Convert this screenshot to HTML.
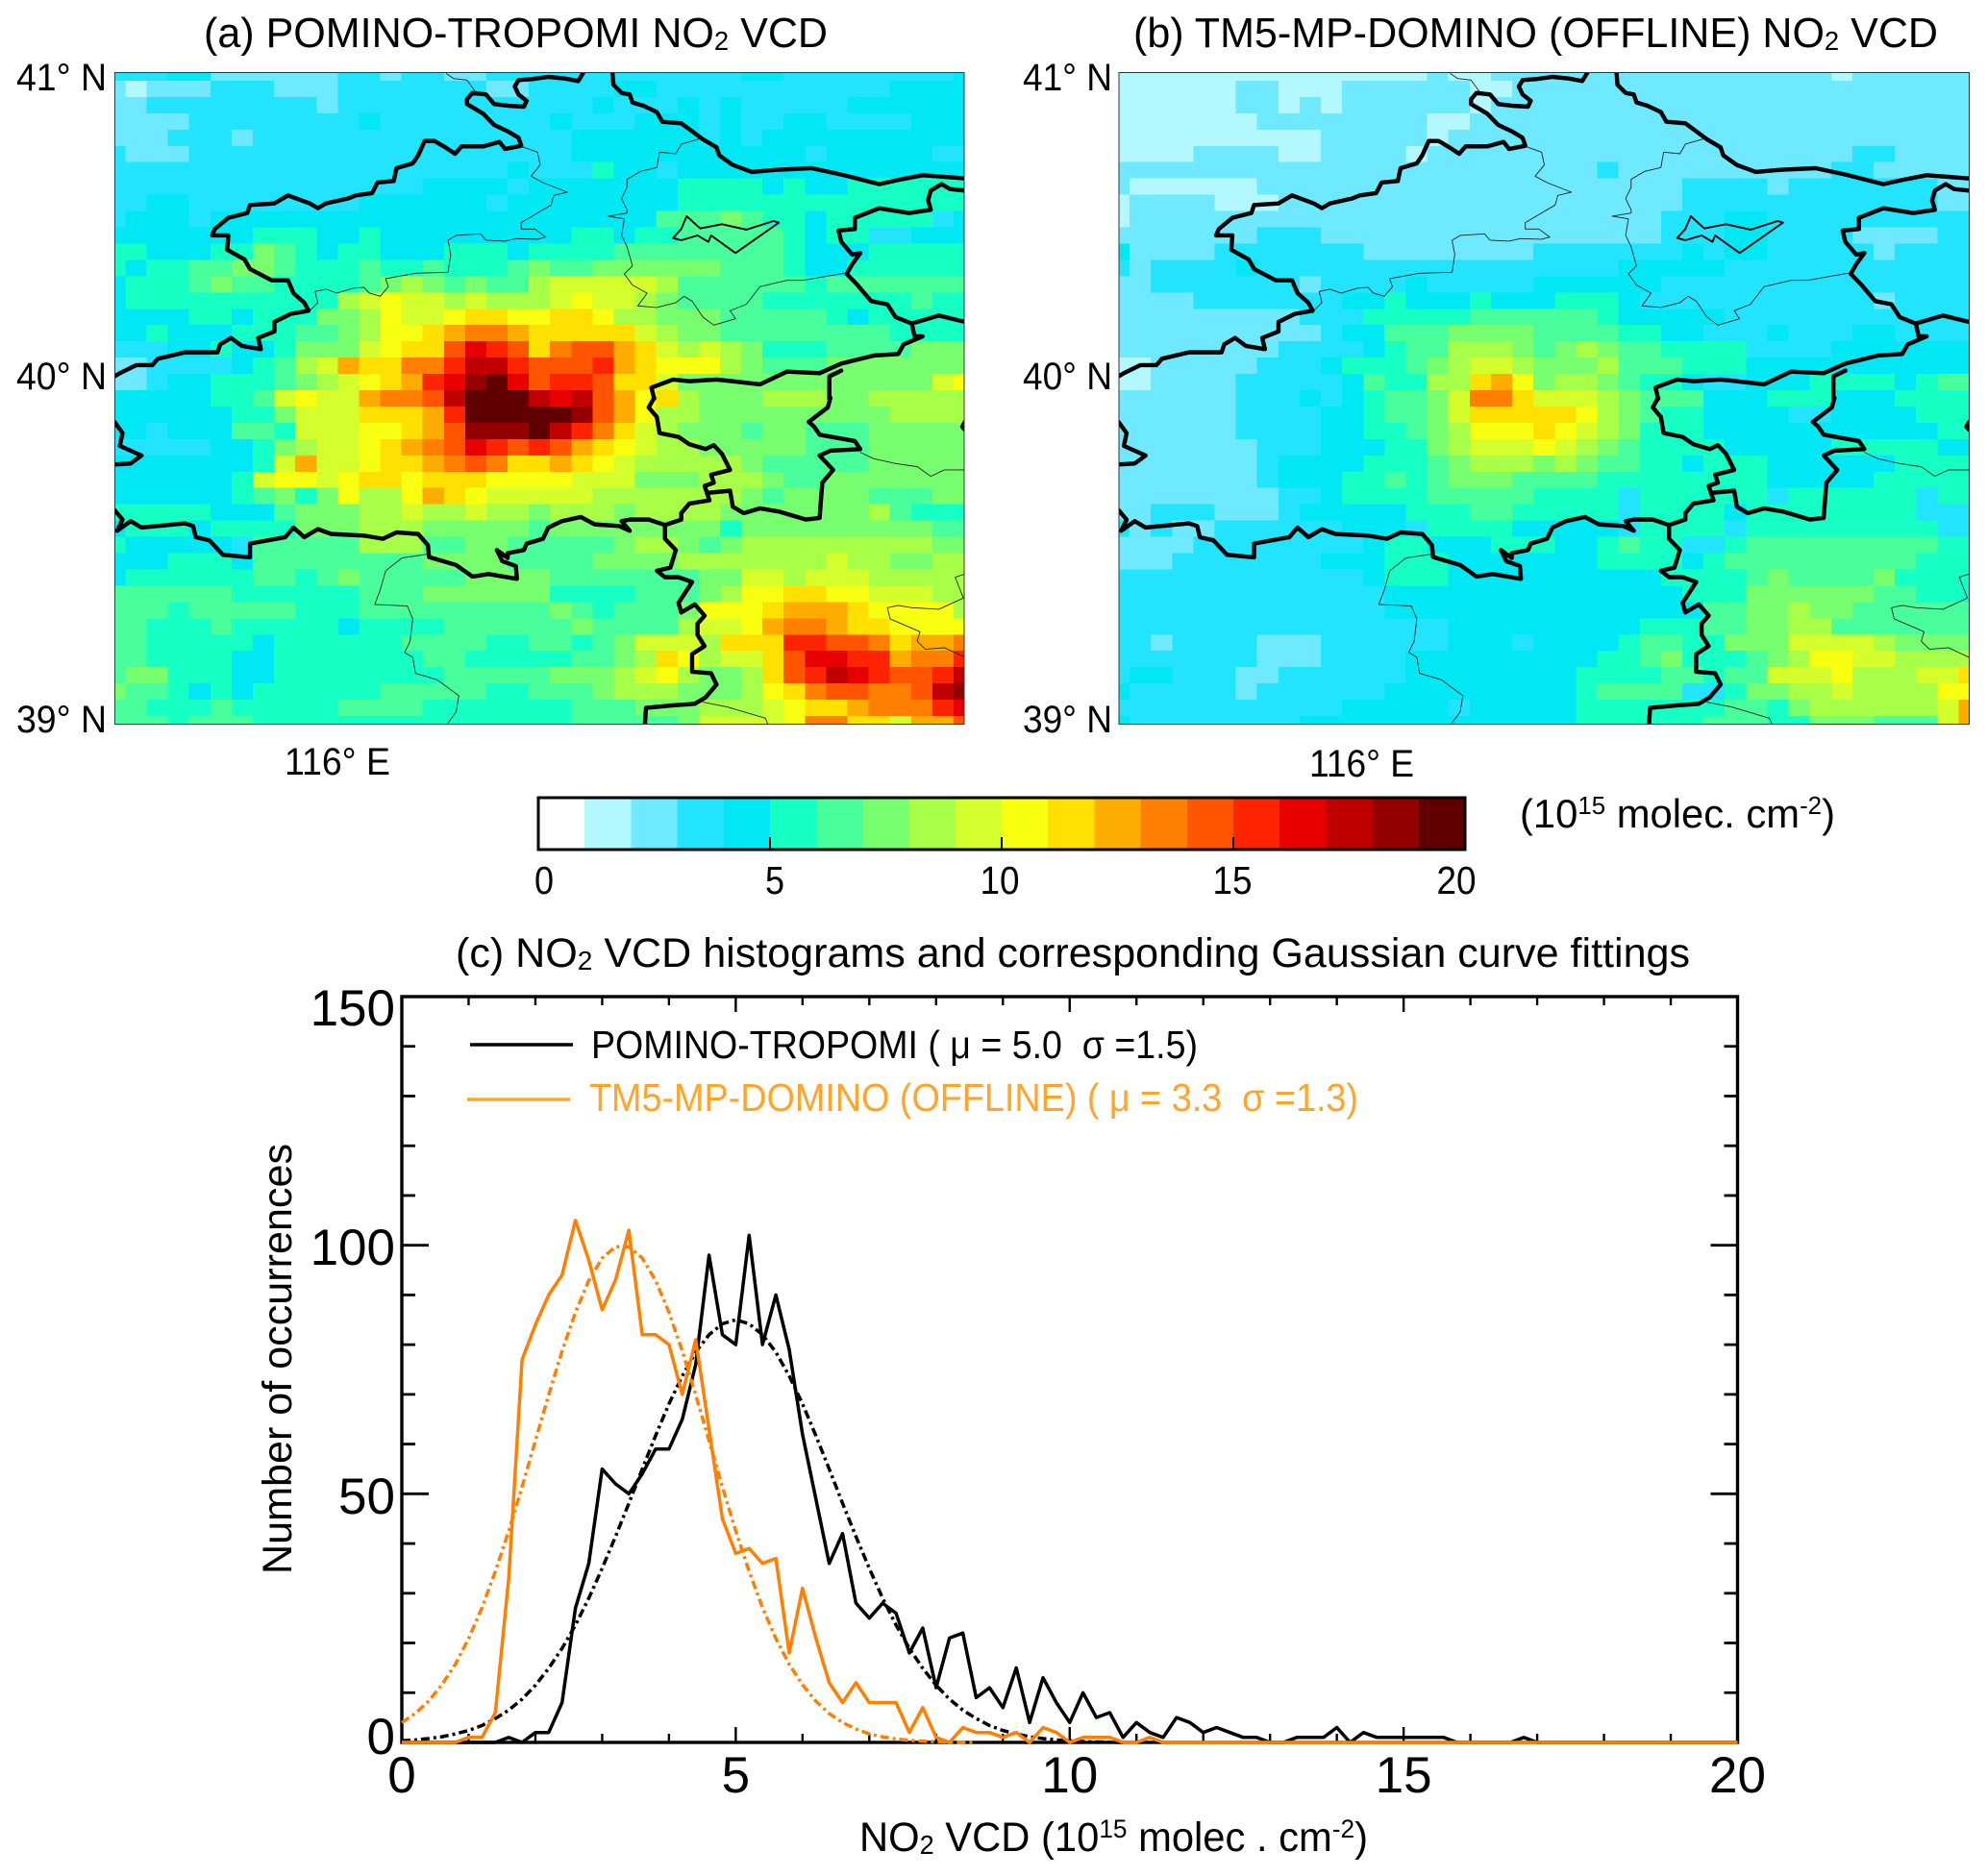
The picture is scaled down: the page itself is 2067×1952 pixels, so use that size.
<!DOCTYPE html>
<html lang="en">
<head>
<meta charset="utf-8">
<title>NO2 VCD maps and histograms</title>
<style>
html,body{margin:0;padding:0;background:#fff}
svg{display:block}
text{font-family:"Liberation Sans",sans-serif;fill:#000}
</style>
</head>
<body>
<svg id="fig" xmlns="http://www.w3.org/2000/svg" width="2067" height="1952" viewBox="0 0 2067 1952">
<defs>
<clipPath id="clipA"><rect x="119.4" y="75.5" width="883.6" height="678"/></clipPath>
<clipPath id="clipB"><rect x="1164" y="75.5" width="884.5" height="678"/></clipPath>
<g id="borders" fill="none" stroke-linejoin="round" stroke-linecap="round">
  <g stroke="#000" stroke-width="4.4">
    <polyline vector-effect="non-scaling-stroke" points="918,0 920,40 935,65 950,70 955,95 975,105 1000,125 1010,155 1045,160 1065,185 1085,210 1110,235 1115,260 1140,290 1175,312 1220,305 1285,300 1340,320 1410,350 1450,335 1490,322 1568,332"/>
    <polyline vector-effect="non-scaling-stroke" points="865,0 855,28 830,20 800,15 770,22 745,25 738,45 745,70 760,90 755,108 725,105 700,100 685,70 660,65 650,85 650,100 680,130 700,165 725,185 745,205 750,230 720,240 710,218 680,232 640,232 628,255 610,235 590,215 572,215 560,260 550,285 520,300 515,340 485,345 475,378 445,385 430,395 390,410 375,425 360,410 320,385 295,410 250,415 245,440 210,455 185,490 180,510 210,510 208,555 240,585 250,615 290,650 320,650 330,690 350,720 358,745 325,755 295,780 295,810 265,830 270,865 235,855 215,830 195,850 190,875 130,875 80,895 70,915 40,915 10,940 0,950"/>
    <polyline vector-effect="non-scaling-stroke" points="1568,370 1540,365 1525,350 1505,370 1500,400 1505,430 1465,440 1410,425 1365,455 1365,490 1335,495 1340,530 1360,570 1375,565 1360,600 1350,630 1370,665 1395,715 1425,725 1440,765 1470,785 1520,760 1568,780"/>
    <polyline vector-effect="non-scaling-stroke" points="1470,785 1475,825 1490,825 1455,850 1445,880 1400,885 1340,910 1300,940 1240,935 1190,975 1140,965 1110,960 1060,965 1030,960 990,985 995,1020"/>
    <polyline vector-effect="non-scaling-stroke" points="1340,932 1318,950 1318,1020"/>
    <g transform="translate(0,1017)">
      <polyline vector-effect="non-scaling-stroke" points="995,0 985,30 1000,60 1005,110 1040,122 1060,145 1090,160 1105,148 1120,175 1135,225 1100,240 1105,265 1088,275 1097,320 1060,330 1045,360 1045,380 1015,397 985,380 950,380 935,385 950,415 930,400 885,395 860,372 825,385 800,405 790,440 760,455 755,475 725,485 725,500 705,475 715,510 740,525 742,565 690,550 660,558 630,522 580,497 578,460 560,425 520,420 495,440 460,430 400,425 375,410 350,435 330,405 315,435 250,455 250,498 200,490 175,445 150,435 145,400 130,392 50,405 30,385 5,415 15,380 0,350"/>
      <polyline vector-effect="non-scaling-stroke" points="1092,297 1135,290 1140,340 1160,360 1190,345 1225,355 1275,380 1300,375 1305,265 1325,225 1300,180 1320,165 1375,160 1365,135 1300,115 1290,90 1280,75 1315,30 1320,0"/>
      <polyline vector-effect="non-scaling-stroke" points="1015,397 1015,440 1035,475 1025,530 1000,540 1015,560 1040,560 1065,575 1040,640 1045,670 1070,645 1088,680 1075,705 1075,740 1088,775 1065,800 1065,855 1100,860 1110,895 1090,935 1070,955 1030,960 980,968 978,1020"/>
      <polyline vector-effect="non-scaling-stroke" points="0,75 15,110 10,150 50,180 30,205 0,208"/>
      <polyline vector-effect="non-scaling-stroke" points="1568,75 1563,90 1568,100"/>
    </g>
  </g>
  <g stroke="#222" stroke-width="0.9">
    <polyline vector-effect="non-scaling-stroke" points="612,5 625,20 650,25 665,60"/>
    <polyline vector-effect="non-scaling-stroke" points="750,232 780,250 785,290 768,325 790,345 835,375 810,385 805,415 750,470 750,490 775,490 795,515 780,522 740,520 720,528 685,525 675,505 630,510 615,525 620,570 615,625 555,628 500,645 505,670 490,700 470,690 460,672 440,675 410,690 390,678 370,685 375,720 360,745"/>
    <polyline vector-effect="non-scaling-stroke" points="1080,208 1045,225 1035,255 1005,250 1000,298 970,310 945,335 945,360 935,395 945,430 945,440 910,450 940,458 935,510 945,545 955,605 940,630 955,665 982,690 965,730 1000,735 1035,720 1050,700 1065,715 1085,765 1105,790 1145,770 1135,745 1165,725 1190,670 1240,650 1270,650 1345,628"/>
    <g transform="translate(0,1017)">
      <polyline vector-effect="non-scaling-stroke" points="578,488 530,500 500,540 490,600 480,645 540,650 550,690 545,760 535,795 550,810 555,860 595,880 635,930 630,980 615,1015"/>
      <polyline vector-effect="non-scaling-stroke" points="1375,170 1400,190 1440,205 1480,215 1505,245 1530,225 1568,225"/>
      <polyline vector-effect="non-scaling-stroke" points="1568,550 1550,560 1565,625 1520,660 1470,655 1445,648 1425,655 1430,690 1485,730 1480,760 1495,785 1530,780 1568,810"/>
      <polyline vector-effect="non-scaling-stroke" points="1085,950 1130,965 1200,1000 1205,1020"/>
    </g>
  </g>
  <polygon vector-effect="non-scaling-stroke" stroke="#000" stroke-width="1.9" points="1055,450 1080,488 1120,475 1165,492 1215,465 1225,470 1145,565 1100,510 1095,530 1075,510 1045,525 1030,518 1045,490"/>
</g>
</defs>

<rect x="0" y="0" width="2067" height="1952" fill="#fff"/>

<text x="212" y="49" font-size="44" textLength="649" lengthAdjust="spacingAndGlyphs">(a) POMINO-TROPOMI NO<tspan font-size="28" dy="3">2</tspan><tspan dy="-3"> VCD</tspan></text>
<text x="1179" y="49" font-size="44" textLength="837" lengthAdjust="spacingAndGlyphs">(b) TM5-MP-DOMINO (OFFLINE) NO<tspan font-size="28" dy="3">2</tspan><tspan dy="-3"> VCD</tspan></text>

<g id="mapA" clip-path="url(#clipA)"></g>
<g id="mapB" clip-path="url(#clipB)"></g>

<g clip-path="url(#clipA)"><use href="#borders" transform="translate(119,75) scale(.5643,.3333)"/></g>
<g clip-path="url(#clipB)"><use href="#borders" transform="translate(1163.5,75) scale(.5643,.3333)"/></g>

<rect x="119.4" y="75.5" width="883.6" height="678" fill="none" stroke="#333" stroke-width="1"/>
<rect x="1164" y="75.5" width="884.5" height="678" fill="none" stroke="#333" stroke-width="1"/>

<g font-size="40">
<text x="17" y="94" textLength="94" lengthAdjust="spacingAndGlyphs">41° N</text>
<text x="17" y="405" textLength="94" lengthAdjust="spacingAndGlyphs">40° N</text>
<text x="17" y="762" textLength="94" lengthAdjust="spacingAndGlyphs">39° N</text>
<text x="296" y="806" textLength="110" lengthAdjust="spacingAndGlyphs">116° E</text>
</g>
<g font-size="40">
<text x="1064" y="94" textLength="93" lengthAdjust="spacingAndGlyphs">41° N</text>
<text x="1064" y="405" textLength="93" lengthAdjust="spacingAndGlyphs">40° N</text>
<text x="1064" y="762" textLength="93" lengthAdjust="spacingAndGlyphs">39° N</text>
<text x="1362" y="808" textLength="109" lengthAdjust="spacingAndGlyphs">116° E</text>
</g>

<g id="colorbar"></g>
<text x="1581" y="861" font-size="42" textLength="328" lengthAdjust="spacingAndGlyphs">(10<tspan font-size="26" dy="-14">15</tspan><tspan dy="14"> molec. cm</tspan><tspan font-size="26" dy="-14">-2</tspan><tspan dy="14">)</tspan></text>

<text x="474" y="1006" font-size="43" textLength="1284" lengthAdjust="spacingAndGlyphs">(c) NO<tspan font-size="28" dy="3">2</tspan><tspan dy="-3"> VCD histograms and corresponding Gaussian curve fittings</tspan></text>

<g id="hist"></g>

<g>
<line x1="489" y1="1087" x2="596" y2="1087" stroke="#000" stroke-width="3.4"/>
<text x="615" y="1101" font-size="41" textLength="631" lengthAdjust="spacingAndGlyphs">POMINO-TROPOMI ( μ = 5.0 &#160;σ =1.5)</text>
<line x1="486" y1="1144" x2="593" y2="1144" stroke="#ffa52c" stroke-width="3.4"/>
<text x="613" y="1156" font-size="41" textLength="800" lengthAdjust="spacingAndGlyphs" style="fill:#ffa52c">TM5-MP-DOMINO (OFFLINE) ( μ = 3.3 &#160;σ =1.3)</text>
</g>

<text x="894" y="1926" font-size="43" textLength="529" lengthAdjust="spacingAndGlyphs">NO<tspan font-size="28" dy="3">2</tspan><tspan dy="-3"> VCD (10</tspan><tspan font-size="27" dy="-14">15</tspan><tspan dy="14"> molec . cm</tspan><tspan font-size="27" dy="-14">-2</tspan><tspan dy="14">)</tspan></text>
<text transform="translate(303,1638) rotate(-90)" x="0" y="0" font-size="43" textLength="448" lengthAdjust="spacingAndGlyphs">Number of occurrences</text>

<script>
// ---- heatmap values (10^15 molec cm-2), rows north to south, columns west to east ----
const pominoGrid = [
[3,3,3,4,4,2,2,2,2,2,2,3,3,2,3,3,2,2,3,3,3,3,3,3,3,3,3,3,3,3,4,4,3,3,3,3,3,3,3,3,4],
[2,1,2,2,2,3,3,3,2,2,2,3,3,3,3,3,3,3,2,2,3,3,3,3,4,4,3,3,3,3,3,3,3,3,3,3,3,4,4,4,4],
[2,2,3,3,3,3,3,3,3,3,2,3,3,3,3,3,3,3,3,3,3,3,3,4,3,3,3,4,3,4,3,3,3,3,3,4,4,4,4,4,4],
[2,2,2,2,3,3,3,3,3,3,3,3,4,3,3,3,3,3,3,3,3,4,3,3,3,4,4,4,3,4,3,3,4,4,3,3,3,3,4,4,4],
[2,2,2,3,3,3,2,3,3,3,3,3,3,3,3,3,3,3,3,3,3,3,4,4,4,4,4,4,3,4,3,4,4,4,4,4,4,4,4,4,4],
[3,2,2,2,3,3,3,3,3,3,3,3,3,3,3,3,3,3,3,3,3,3,4,4,4,4,4,4,4,4,4,4,4,3,4,4,4,4,4,3,3],
[3,3,3,3,3,3,3,3,3,3,3,3,3,3,3,3,3,3,3,4,3,3,3,5,4,4,3,4,4,4,4,4,4,4,4,4,4,4,4,4,4],
[3,3,3,3,3,3,3,3,3,3,3,3,3,3,3,4,4,4,4,3,4,4,4,4,4,4,4,5,5,5,5,4,5,4,4,5,5,5,5,5,5],
[3,3,4,4,3,3,3,3,3,3,3,3,4,4,4,4,4,4,3,4,4,4,4,4,4,4,4,5,5,5,5,5,5,5,5,5,5,5,5,5,5],
[3,4,4,4,3,4,4,4,4,4,4,4,4,4,4,4,4,4,4,4,4,4,4,4,4,4,6,6,6,7,6,5,5,4,5,5,5,5,5,3,4],
[4,4,4,4,4,4,4,5,5,5,4,4,5,4,4,4,4,4,4,4,4,4,5,5,4,5,5,6,6,6,6,6,5,4,5,5,3,3,4,4,4],
[5,5,4,4,4,5,5,7,6,5,4,5,5,4,4,4,5,5,5,4,5,5,5,5,6,6,6,6,6,6,6,6,5,4,4,4,5,5,5,5,5],
[5,4,5,5,6,6,7,7,6,5,5,5,6,5,5,6,5,5,5,6,7,6,6,7,7,7,7,7,7,6,6,6,5,4,4,5,5,5,5,5,5],
[4,5,5,5,6,7,6,6,5,5,5,5,6,7,8,7,6,7,6,6,8,9,9,9,9,9,8,6,6,6,6,6,6,5,6,6,6,6,6,6,6],
[4,5,5,5,5,5,5,5,5,5,5,8,9,10,9,9,8,9,8,8,8,9,10,9,9,8,7,6,6,6,6,5,5,5,5,5,5,5,6,5,5],
[4,4,4,4,5,5,4,5,5,5,7,7,8,10,9,9,10,11,11,10,10,11,11,10,8,8,7,7,7,6,6,6,6,6,5,4,5,5,5,5,5],
[4,4,5,4,4,4,5,5,5,6,6,7,8,10,10,11,12,13,13,12,11,11,11,11,11,9,8,7,7,6,6,6,6,6,6,6,6,5,5,5,5],
[3,3,3,4,4,5,4,4,5,7,7,7,9,10,11,11,14,16,15,14,11,13,14,14,12,11,9,8,9,8,7,5,5,5,6,6,6,6,7,7,7],
[2,2,3,3,3,3,4,5,6,8,9,12,11,11,13,13,15,17,17,15,14,14,14,15,12,11,10,10,10,8,7,6,6,6,7,7,7,7,7,7,7],
[2,2,3,4,4,5,5,5,6,7,8,9,10,11,12,15,16,18,19,16,14,15,15,14,11,11,9,7,7,7,7,7,7,7,7,7,7,7,7,9,10],
[4,4,4,4,4,5,5,6,9,10,9,9,12,13,13,14,17,19,19,19,17,16,17,14,12,10,11,8,7,7,7,8,8,8,7,7,8,8,8,8,8],
[4,4,4,4,4,4,5,5,7,9,9,9,11,11,11,12,15,19,19,19,19,19,18,14,12,10,8,8,7,7,7,7,7,7,7,7,7,8,8,8,8],
[4,4,3,4,4,4,6,6,5,9,9,9,10,10,11,12,14,18,18,18,19,17,15,13,11,9,8,7,7,7,6,7,7,6,6,6,7,7,7,7,7],
[3,3,3,3,3,4,4,5,7,8,9,9,10,11,12,13,14,16,15,14,15,14,12,11,10,9,8,8,7,7,7,7,7,6,6,6,7,7,7,7,7],
[4,4,4,4,4,4,4,5,9,12,9,9,10,11,11,12,13,14,13,11,11,12,11,10,9,8,8,8,8,8,7,6,6,6,6,6,7,7,7,7,7],
[4,4,4,4,4,4,5,9,10,10,9,10,11,11,10,11,11,11,10,10,10,10,9,9,9,7,7,7,8,8,8,7,6,6,7,7,7,7,7,7,7],
[4,4,4,4,4,4,5,6,7,5,7,10,8,8,10,12,11,10,9,9,9,9,9,8,8,8,8,8,8,8,7,6,7,7,7,7,6,6,6,7,7],
[5,5,5,5,5,4,4,4,6,7,7,7,8,8,9,8,8,9,8,8,7,8,8,8,7,8,8,8,8,7,7,7,7,7,7,7,8,6,5,5,5],
[4,5,5,5,4,5,5,5,5,7,7,7,8,8,8,7,7,7,7,7,6,7,7,7,7,7,7,7,7,5,7,7,7,7,7,7,7,7,7,6,6],
[5,4,4,4,4,4,3,6,6,6,6,6,8,8,8,6,6,7,7,6,6,6,6,6,7,8,8,7,6,7,8,8,8,8,8,8,8,8,8,7,7],
[4,4,4,5,5,5,4,6,6,6,6,6,6,6,6,7,7,7,7,6,6,6,6,7,7,7,7,8,8,8,8,8,8,8,9,8,8,7,7,8,8],
[4,5,5,5,5,5,5,6,6,5,6,7,6,6,6,6,6,7,7,7,7,6,6,6,6,6,6,6,7,7,9,9,8,9,9,9,8,8,8,8,8],
[6,6,6,6,6,6,5,5,5,5,5,5,6,6,6,7,7,7,7,7,7,5,5,5,5,6,6,6,7,8,10,10,11,11,10,10,9,9,9,8,8],
[6,6,6,5,6,6,6,6,6,5,5,5,6,6,6,6,6,6,6,6,6,7,6,5,6,6,6,7,10,10,10,11,12,12,12,11,10,10,10,10,8],
[6,6,5,5,5,6,5,5,5,5,5,4,5,5,5,5,6,6,6,6,6,6,7,6,6,6,6,8,9,9,10,12,13,13,12,11,11,10,10,10,10],
[6,6,5,5,5,5,5,4,5,5,5,5,5,5,6,6,6,6,5,5,6,6,5,6,7,9,9,9,8,11,11,11,15,15,14,14,13,11,12,12,13],
[6,6,5,5,5,5,4,4,5,5,5,5,5,5,5,6,6,5,5,5,5,5,6,6,7,8,11,10,8,9,9,11,14,16,16,15,15,12,13,13,15],
[6,7,7,5,5,5,4,4,5,5,5,5,5,5,5,5,6,6,6,6,6,7,7,7,8,9,10,8,7,7,8,11,14,15,17,16,15,14,14,15,17],
[7,6,6,5,4,5,4,5,5,5,5,5,5,6,6,6,6,6,5,5,6,6,6,7,8,8,8,7,7,7,8,10,11,13,14,14,13,13,14,17,18],
[6,6,5,5,5,6,5,5,5,5,5,6,6,6,6,5,5,5,5,5,5,5,6,6,6,7,7,7,8,8,8,9,10,11,11,12,13,13,13,15,16],
[6,6,6,5,6,6,6,5,5,5,5,5,5,5,5,5,5,5,5,5,5,5,6,6,6,6,6,7,9,9,9,9,10,13,13,11,11,9,12,12,14]
];
const dominoGrid = [
[1,1,1,1,1,1,1,1,1,1,1,1,1,1,1,2,1,1,2,2,2,2,2,2,2,2,2,2,2,2,2,2,2,2,1,2,2,2,2,2,2],
[1,1,1,1,1,1,2,2,1,1,1,2,2,2,2,2,2,1,1,2,2,2,2,2,2,2,2,2,2,2,2,2,2,2,2,2,2,2,2,2,2],
[1,1,1,1,1,1,2,2,1,2,1,2,2,2,2,2,2,1,2,2,2,2,2,2,2,2,2,2,2,2,2,2,2,2,2,2,2,2,2,2,2],
[1,1,1,1,1,1,1,2,2,2,2,2,2,2,2,1,1,2,2,2,2,2,2,2,2,2,2,2,2,2,2,2,2,2,2,2,2,2,2,2,2],
[1,1,1,1,1,1,1,1,1,1,2,2,2,2,2,1,2,2,2,2,2,2,2,2,2,2,2,2,2,2,2,2,2,2,2,2,2,2,2,2,2],
[1,1,1,1,2,2,2,2,1,1,2,2,2,2,1,2,2,2,2,2,2,2,2,2,2,2,2,2,2,2,2,2,2,2,2,3,3,2,2,2,2],
[2,2,2,2,2,2,2,2,2,2,2,2,2,2,2,2,2,2,2,2,2,2,2,3,2,2,2,2,2,2,2,2,2,2,3,3,2,2,2,2,2],
[2,1,1,1,1,1,1,2,2,2,2,2,2,2,2,2,2,2,2,2,2,2,2,2,2,2,2,3,3,3,3,2,3,3,3,3,3,3,3,2,2],
[1,2,2,2,2,1,1,1,2,2,2,2,2,2,2,2,2,2,2,2,2,2,2,2,2,2,2,3,3,3,3,3,3,3,3,3,3,3,3,2,2],
[1,2,2,2,2,2,2,2,2,2,2,2,2,2,2,2,2,2,2,2,2,2,2,2,2,2,3,3,3,4,4,3,3,3,3,3,3,3,3,3,3],
[2,2,2,2,2,2,2,3,3,3,2,2,2,2,2,2,2,2,2,2,2,2,2,2,2,2,3,3,3,4,4,3,3,3,3,2,2,2,2,3,3],
[4,2,2,2,2,3,3,3,3,3,3,3,2,2,2,2,2,2,2,2,3,3,3,3,3,3,3,4,3,4,4,3,3,3,3,3,2,3,3,3,3],
[3,2,3,3,3,3,4,3,3,3,3,3,3,3,3,3,3,3,3,3,3,3,3,3,4,4,4,4,4,3,3,3,3,3,3,3,3,3,3,3,3],
[2,2,3,3,3,3,3,3,3,2,3,3,3,3,4,3,3,3,3,3,4,4,4,4,4,4,3,3,3,3,3,3,3,3,3,3,3,3,3,3,3],
[2,2,2,2,3,3,3,3,3,3,3,4,4,5,4,4,4,5,4,4,4,5,5,5,4,3,3,3,3,3,3,3,3,3,3,3,2,3,3,3,3],
[2,2,2,2,2,2,2,2,2,3,3,3,5,5,5,5,5,6,6,6,6,6,6,5,4,4,4,4,4,3,3,3,3,3,3,3,3,3,3,3,3],
[2,2,2,2,2,2,2,2,2,2,3,4,4,6,6,6,7,7,7,7,6,6,6,6,5,5,4,4,3,3,3,4,3,3,3,4,4,3,3,3,3],
[2,2,2,2,2,2,2,2,3,3,3,3,4,5,6,6,8,8,8,7,6,7,8,7,6,6,5,5,5,5,3,3,3,3,4,4,4,4,4,4,4],
[1,1,2,2,2,2,2,3,3,3,4,5,5,5,6,7,8,9,9,8,7,7,7,8,6,6,6,5,5,5,4,4,4,4,4,4,4,4,4,4,4],
[1,1,2,2,2,2,3,3,3,3,3,4,6,5,5,8,8,11,12,10,7,8,8,7,6,5,5,4,3,3,4,4,4,5,5,5,5,4,5,6,6],
[2,2,2,2,2,2,3,3,3,4,3,4,5,6,6,7,9,13,13,11,9,9,9,8,7,6,6,6,4,4,4,5,5,5,4,4,4,5,5,5,5],
[2,2,2,2,2,2,3,3,3,3,4,4,5,6,6,7,9,11,11,11,11,11,10,8,7,6,5,5,4,4,4,4,3,3,4,4,4,4,5,5,5],
[2,2,2,2,2,2,3,3,3,3,4,4,5,5,6,7,8,10,10,10,11,10,9,8,7,5,5,5,4,4,4,4,4,4,4,4,4,4,4,5,5],
[2,2,2,2,2,2,2,3,3,3,4,4,4,5,5,7,8,9,9,9,10,9,8,7,6,5,5,5,5,4,4,4,4,4,5,5,5,5,5,4,4],
[2,2,2,2,2,2,2,3,4,4,4,4,5,5,5,6,7,8,8,8,7,8,7,6,6,5,5,4,5,5,5,4,4,4,4,4,4,5,5,5,5],
[2,2,2,2,2,2,2,3,4,4,4,5,5,6,5,6,7,7,7,6,6,6,6,5,5,5,5,5,5,5,5,4,4,4,4,4,5,5,5,5,5],
[2,2,2,2,2,2,2,2,3,3,4,5,5,5,5,6,6,6,6,6,5,5,5,5,3,5,5,5,5,5,5,3,5,5,5,5,5,5,3,5,5],
[2,2,3,3,3,2,2,2,3,4,4,4,4,4,5,5,5,6,6,5,5,5,5,5,3,5,5,5,5,4,5,5,5,5,5,5,5,5,3,3,3],
[3,2,3,2,2,3,3,3,3,3,3,4,4,4,3,5,5,5,5,4,4,4,4,4,3,5,5,5,5,3,5,5,5,5,5,5,5,5,5,3,3],
[2,2,2,2,3,3,3,3,3,3,3,3,4,5,5,4,4,4,5,5,5,4,4,5,6,5,5,3,3,5,6,6,6,6,6,6,6,6,6,5,5],
[2,2,2,3,3,3,3,3,3,3,4,4,4,5,5,5,4,4,4,4,4,4,4,5,5,5,5,4,5,6,6,6,6,6,6,6,6,6,5,5,5],
[3,3,3,3,3,3,3,3,3,3,3,3,4,5,5,5,4,4,4,4,4,4,4,4,4,4,5,5,5,5,6,7,6,6,6,6,7,5,5,5,5],
[3,3,3,3,3,3,3,3,3,3,3,3,3,4,4,4,4,4,4,4,4,4,4,4,4,4,4,5,5,5,7,7,7,7,7,7,6,6,5,5,5],
[3,3,3,3,3,3,3,3,3,3,3,3,3,4,4,4,4,4,4,4,4,4,4,4,4,4,4,4,6,6,7,7,8,7,7,6,6,6,6,6,6],
[3,3,3,3,3,3,3,3,3,3,3,3,3,3,3,3,4,4,4,4,4,4,4,4,4,5,5,5,6,6,7,7,8,8,6,6,6,6,6,6,6],
[3,3,2,3,3,3,3,2,2,2,3,3,3,3,3,3,4,4,4,3,4,4,4,4,5,6,6,5,5,7,7,7,9,9,9,9,8,7,7,7,7],
[3,3,3,3,3,3,3,2,2,2,3,3,3,3,4,4,4,4,4,4,4,4,4,5,5,6,7,5,5,5,6,7,8,10,10,9,9,8,8,8,8],
[3,4,4,3,3,3,2,2,3,3,3,3,3,3,4,4,4,4,4,4,4,4,5,5,5,5,6,6,5,6,6,9,9,9,10,8,8,8,9,9,11],
[4,3,3,3,3,3,2,3,3,3,3,3,3,4,4,4,4,4,4,4,4,4,5,6,6,6,6,3,3,5,7,7,8,8,9,8,8,8,8,10,10],
[3,3,3,3,3,3,3,3,3,3,3,4,4,4,4,4,3,4,4,4,4,4,5,5,5,5,5,5,5,6,6,5,7,8,8,8,8,8,8,9,12],
[4,3,3,3,3,3,3,3,3,4,4,4,4,4,4,4,4,4,4,4,4,4,5,5,5,5,5,5,6,6,6,5,5,7,7,7,6,6,6,9,12]
];
// ---- colour bar ----
const colorbarTicks = [0,5,10,15,20];
const colorbarLevels = [0,1,2,3,4,5,6,7,8,9,10,11,12,13,14,15,16,17,18,19];
// ---- histogram data: bins every 0.2 from 0 to 20 ----
const binWidth = 0.2;
const pominoCounts = [0,0,0,0,0,0,0,0,1,0,2,2,8,27,36,55,52,50,54,59,59,65,76,98,82,80,102,80,90,79,62,49,36,42,28,25,28,26,18,23,11,21,22,9,11,7,15,4,13,8,4,10,5,6,1,4,2,1,5,4,2,3,2,1,1,0,0,1,1,1,3,0,2,1,1,1,1,1,1,0,0,0,0,0,1,0,0,0,0,0,0,0,0,0,0,0,0,0,0,0,0];
const dominoCounts = [0,0,0,0,0,1,1,6,33,77,84,90,94,105,97,87,93,103,82,82,80,70,81,63,45,38,39,36,37,18,31,21,12,8,12,8,8,8,2,7,1,0,3,2,2,1,2,0,3,2,0,1,1,1,0,0,1,0,0,0,0,0,0,0,0,0,0,0,0,0,0,0,0,0,0,0,0,0,0,0,0,0,0,0,0,0,0,0,0,0,0,0,0,0,0,0,0,0,0,0,0];
const pominoFit = [0.33,0.5,0.77,1.15,1.7,2.4,3.4,4.8,6.5,8.7,11.5,14.9,18.9,23.6,29,35,41.4,48.1,55,61.7,68.1,73.7,78.5,82,84.2,85,84.2,82,78.5,73.7,68.1,61.7,55,48.1,41.4,35,29,23.6,18.9,14.9,11.5,8.7,6.5,4.8,3.4,2.4,1.7,1.15,0.77,0.5,0.33,0.2,0.1,0.05,0];
const dominoFit = [4,5.8,8.3,11.6,15.7,20.9,27.1,34.4,42.5,51.4,60.7,69.9,78.7,86.5,92.9,97.4,99.7,99.7,97.4,92.9,86.5,78.7,69.9,60.7,51.4,42.5,34.4,27.1,20.9,15.7,11.6,8.3,5.8,4,2.7,1.7,1.1,0.7,0.4,0.25,0.15,0.08,0.04,0];
const xTickLabels = ['0','5','10','15','20'];
const yTickLabels = ['0','50','100','150'];

const palette = ['#ffffff','#b4f8ff','#6ee9ff','#22e4ff','#00e8f4','#16ffc4','#48ff9c','#78ff70','#a8ff48','#d4ff2c','#f8ff10','#ffe000','#ffac00','#ff8000','#ff5400','#ff2400','#e80000','#c00000','#940000','#600000'];
const NS = 'http://www.w3.org/2000/svg';
function mk(tag, parent, attrs){
  const el = document.createElementNS(NS, tag);
  for (const k in attrs) el.setAttribute(k, attrs[k]);
  parent.appendChild(el);
  return el;
}
function colorOf(v){
  return palette[Math.max(0, Math.min(palette.length - 1, Math.floor(v)))];
}

// ---- maps ----
function drawMap(groupId, grid, left, width, top, height){
  const g = document.getElementById(groupId);
  const nr = grid.length;
  const nc = grid[0].length;
  const cw = width / (nc - 1);
  const ch = height / (nr - 1);
  const xOf = function(col){ return left + col * cw; };
  const yOf = function(row){ return top + row * ch; };
  grid.forEach(function(row, r){
    row.forEach(function(v, c){
      const el = mk('rect', g, {
        x: xOf(c) - cw / 2, y: yOf(r) - ch / 2,
        width: cw + 0.4, height: ch + 0.4,
        fill: colorOf(v), 'shape-rendering': 'crispEdges'
      });
      
      
    });
  });
}
drawMap('mapA', pominoGrid, 119.4, 883.6, 75.5, 678);
drawMap('mapB', dominoGrid, 1164, 884.5, 75.5, 678);

// ---- colour bar ----
(function(){
  const g = document.getElementById('colorbar');
  const L = 560, R = 1524, T = 830, B = 884;
  const cx = function(v){ return L + (v / 20) * (R - L); };
  const labelNudge = {0: 6, 5: 5, 10: -2, 15: -1, 20: -9};
  colorbarLevels.forEach(function(v){
    const seg = mk('rect', g, {x: cx(v), y: T, width: cx(v + 1) - cx(v) + 0.4, height: B - T, fill: colorOf(v), 'shape-rendering':'crispEdges'});
    
    
  });
  const frame = mk('rect', g, {x: L, y: T, width: R - L, height: B - T, fill: 'none', stroke: '#000', 'stroke-width': 3});
  
  
  colorbarTicks.forEach(function(v){
    if (v > 0 && v < 20) {
      const t = mk('line', g, {x1: cx(v), x2: cx(v), y1: B, y2: B - 13, stroke: '#000', 'stroke-width': 2});
      
      
    }
    const s = String(v);
    const lab = mk('text', g, {x: cx(v) + labelNudge[v], y: 930, 'font-size': 41, 'text-anchor': 'middle', textLength: s.length === 1 ? 20 : 41, lengthAdjust: 'spacingAndGlyphs'});
    lab.textContent = s;
    
    
  });
})();

// ---- histogram ----
(function(){
  const g = document.getElementById('hist');
  const X0 = 418, X1 = 1807.5, Y0 = 1813, Y1 = 1037;
  const xScale = function(v){ return X0 + (v / 20) * (X1 - X0); };
  const yScale = function(v){ return Y0 - (v / 150) * (Y0 - Y1); };

  function series(values, color, dash, name){
    const pts = values.map(function(v, i){ return xScale(i * binWidth).toFixed(1) + ',' + yScale(v).toFixed(1); }).join(' ');
    const attrs = {points: pts, fill: 'none', stroke: color, 'stroke-width': 3.5, 'stroke-linejoin': 'round'};
    if (dash) attrs['stroke-dasharray'] = dash;
    const el = mk('polyline', g, attrs);
    
    
  }

  for (let v = 0; v <= 20; v++) {
    const major = v % 5 === 0;
    const len = major ? 16 : 9;
    if (v > 0 && v < 20) {
      const t1 = mk('line', g, {x1: xScale(v), x2: xScale(v), y1: Y0, y2: Y0 - len, stroke: '#000', 'stroke-width': 2.4});
      
      
      const t2 = mk('line', g, {x1: xScale(v), x2: xScale(v), y1: Y1, y2: Y1 + len, stroke: '#000', 'stroke-width': 2.4});
      
      
    }
  }
  for (let v = 0; v <= 150; v += 10) {
    const major = v % 50 === 0;
    const len = major ? 28 : 14;
    if (v > 0 && v < 150) {
      const t1 = mk('line', g, {x1: X0, x2: X0 + len, y1: yScale(v), y2: yScale(v), stroke: '#000', 'stroke-width': 2.8});
      
      
      const t2 = mk('line', g, {x1: X1, x2: X1 - len, y1: yScale(v), y2: yScale(v), stroke: '#000', 'stroke-width': 2.8});
      
      
    }
  }

  const frame = mk('rect', g, {x: X0, y: Y1, width: X1 - X0, height: Y0 - Y1, fill: 'none', stroke: '#000', 'stroke-width': 3.4});
  
  

  series(pominoCounts, '#000', null, 'pomino-histogram-line');
  series(pominoFit, '#000', '9 4 3 4', 'pomino-gaussian-fit');
  series(dominoFit, '#ff8000', '9 4 3 4', 'domino-gaussian-fit');
  series(dominoCounts, '#ff8000', null, 'domino-histogram-line');

  xTickLabels.forEach(function(s){
    const v = Number(s);
    const lab = mk('text', g, {x: xScale(v), y: 1865, 'font-size': 53, 'text-anchor': 'middle'});
    lab.textContent = s;
    
    
  });
  const yBase = {0: 1825, 50: 1575, 100: 1316, 150: 1067};
  yTickLabels.forEach(function(s){
    const v = Number(s);
    const lab = mk('text', g, {x: 411, y: yBase[v], 'font-size': 53, 'text-anchor': 'end'});
    lab.textContent = s;
    
    
  });
})();
</script>
</svg>
</body>
</html>
